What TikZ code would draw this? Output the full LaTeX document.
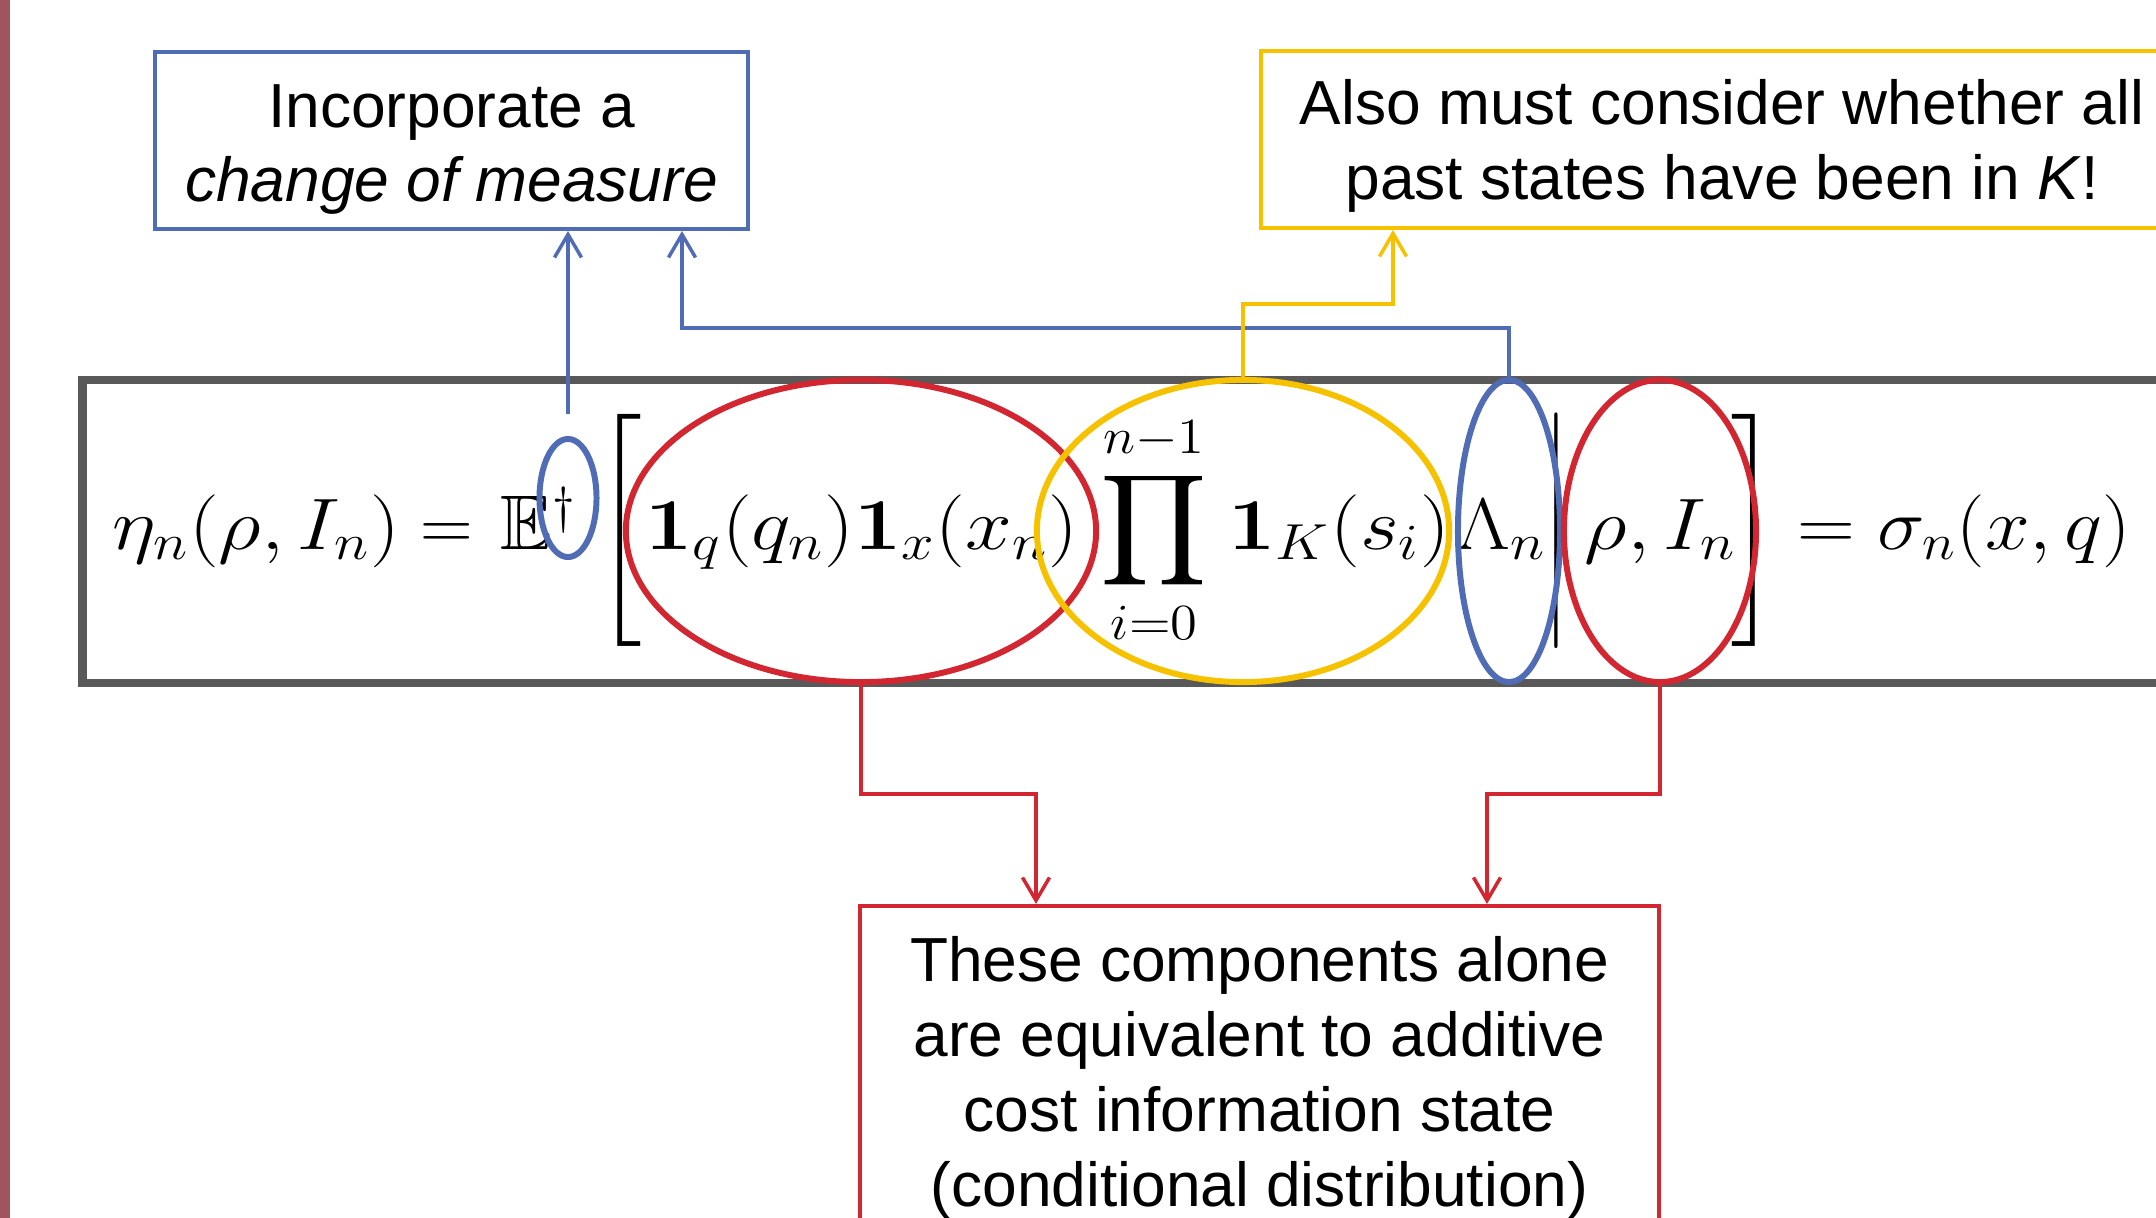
\documentclass[tikz,border=0pt]{standalone}
\usepackage{amsmath,amssymb,graphicx}
\usepackage[no-math]{fontspec}
\newfontfamily\labelfont{Liberation Sans}
\usetikzlibrary{arrows.meta,calc,shapes.geometric}

\definecolor{boxblue}{RGB}{79,108,181}
\definecolor{boxred}{RGB}{210,38,48}
\definecolor{boxyellow}{RGB}{246,194,0}
\definecolor{eqgray}{RGB}{89,89,89}
\definecolor{sidebar}{RGB}{160,84,94}

% wide math pieces
\newcommand{\wm}[2][1.15]{\scalebox{#1}[1]{$#2$}}

\begin{document}
\begin{tikzpicture}[x=0.01cm,y=-0.01cm,
  frame/.style={draw, line width=1.1pt, inner sep=0pt},
  notetext/.style={align=center, inner sep=0pt,
    font=\labelfont\fontsize{17.7}{21.3}\selectfont},
  ring/.style={ellipse, draw, line width=1.7pt, inner sep=0pt},
  link/.style={line width=1pt, -{Straight Barb[length=0.23cm,width=0.27cm]}},
  piece/.style={anchor=base west, inner sep=0pt, font=\fontsize{22}{26}\selectfont}
]
\useasboundingbox (0,0) rectangle (2156,1218);
\clip (0,0) rectangle (2156,1218);

% slide edge
\fill[sidebar] (0,0) rectangle (10,1218);

% framed equation
\node (eqbox) [draw=eqgray, line width=2.4pt, minimum width=21.07cm, minimum height=3.03cm,
  inner sep=0pt] at (1136.5,531.5) {};

\node (eqA) [piece] at (112,549) {\wm{\eta_n(\rho,I_n)}};
\node (eqB) [piece] at (420,549) {$=$};
\node (eqC) [piece] at (500,549) {$\mathbb{E}^{\dagger}$};
\node (eqD) [piece] at (596,549) {$\Bigg[$};
\node (eqE) [piece] at (645,549) {\wm{\mathbf{1}_q(q_n)\mathbf{1}_x(x_n)}};
\node (eqF) [piece] at (1100,549) {\wm[1.08]{\displaystyle\prod_{i=0}^{n-1}}};
\node (eqG) [piece] at (1228,549) {\wm{\mathbf{1}_K(s_i)}};
\node (eqH) [piece] at (1456,549) {\wm{\Lambda_n}};
\node (eqI) [piece] at (1543,549) {$\Bigg|$};
\node (eqJ) [piece] at (1584,549) {\wm{\rho,I_n}};
\node (eqK) [piece] at (1731,549) {$\Bigg]$};
\node (eqL) [piece] at (1797,549) {\wm[1.1]{=\sigma_n(x,q)}};

% highlighted groups
\node (dag)  [ring, boxblue,   minimum width=0.57cm, minimum height=1.18cm] at (568,498) {};
\node (red1) [ring, boxred,    minimum width=4.70cm, minimum height=3.02cm] at (861,531) {};
\node (yel)  [ring, boxyellow, minimum width=4.12cm, minimum height=3.02cm] at (1243,531) {};
\node (lam)  [ring, boxblue,   minimum width=1.02cm, minimum height=3.02cm] at (1509,531) {};
\node (red2) [ring, boxred,    minimum width=1.92cm, minimum height=3.02cm] at (1660,531) {};

% callout boxes
\node (measure) [frame, draw=boxblue, minimum width=5.92cm, minimum height=1.77cm] at (451.5,140.5) {};
\node (measuretxt) [notetext] at ($(measure.center)+(0,9)$) {Incorporate a\\\textit{change of measure}};
\node (pastK) [frame, draw=boxyellow, minimum width=9.22cm, minimum height=1.77cm] at (1722,139.5) {};
\node (pastKtxt) [notetext] at ($(pastK.center)+(0,6)$) {Also must consider whether all\\past states have been in \textit{K}!};
\node (comp) [frame, draw=boxred, minimum width=7.99cm, minimum height=3.18cm] at (1259.5,1065) {};
\node (comptxt) [notetext] at ($(comp.center)+(0,13)$) {These components alone\\are equivalent to additive\\cost information state\\(conditional distribution)};

% connectors
\coordinate (dagtop) at ($(dag.north)+(0,-22)$);
\coordinate (mB) at ($(measure.south)+(230.5,0)$);
\coordinate (kIn) at ($(pastK.south)+(-329,0)$);
\coordinate (cL) at ($(comp.north)+(-223.5,0)$);
\coordinate (cR) at ($(comp.north)+(227.5,0)$);

\draw[link, boxblue] (dagtop) -- (dagtop |- measure.south);
\draw[link, boxblue] (lam.north) |- (mB |- 0,328) -- (mB);
\draw[link, boxyellow] (yel.north) |- (kIn |- 0,304) -- (kIn);
\draw[link, boxred] (red1.south) |- (cL |- 0,794) -- (cL);
\draw[link, boxred] (red2.south) |- (cR |- 0,794) -- (cR);
\end{tikzpicture}
\end{document}
